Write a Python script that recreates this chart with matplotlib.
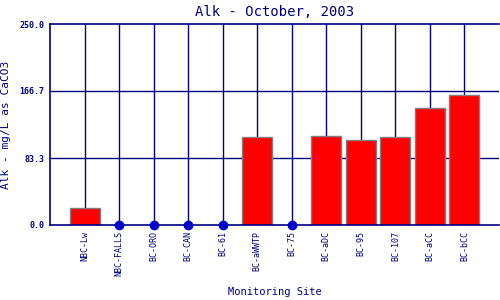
import matplotlib
matplotlib.use("Agg")
import matplotlib.pyplot as plt
import numpy as np

sites = ["NBC-Lw", "NBC-FALLS", "BC-ORO", "BC-CAN", "BC-61", "BC-aWWTP",
         "BC-75", "BC-aDC", "BC-95", "BC-107", "BC-aCC", "BC-bCC"]
alk = [21.5, 0, 0, 0, 0, 109, 0, 110.3, 105.3, 109, 145.1, 161.3]
yticks = [0.0, 83.3, 166.7, 250.0]

NAVY = "#000080"
plt.rcParams["font.family"] = "DejaVu Sans Mono"

fig = plt.figure(figsize=(5, 3), dpi=100)
ax = fig.add_axes([0.1, 0.25, 0.898, 0.67])

x = np.arange(len(sites))
vals = np.array(alk)

ax.set_axisbelow(True)
for yt in yticks[1:-1]:
    ax.axhline(yt, color=NAVY, lw=1, zorder=0)
for xi in x:
    ax.axvline(xi, color=NAVY, lw=1, zorder=0)

nz = vals > 0
ax.bar(x[nz], vals[nz], width=0.87, color="#ff0000", edgecolor="#808080",
       linewidth=1, zorder=2)
ax.plot(x[~nz], vals[~nz], "o", color="#0000cc", ms=6, zorder=3, clip_on=False)

ax.set_xlim(-1, len(sites))
ax.set_ylim(0, 250)
ax.set_yticks(yticks)
ax.set_yticklabels([f"{v:.1f}" for v in yticks], fontsize=6, color=NAVY,
                   fontweight="bold")
ax.set_xticks(x)
ax.set_xticklabels(sites, rotation=90, fontsize=6, color=NAVY)
ax.tick_params(length=0, pad=4)

for s in ["left", "bottom", "top"]:
    ax.spines[s].set_color(NAVY)
    ax.spines[s].set_linewidth(1.2)
ax.spines["right"].set_visible(False)

ax.set_title("Alk - October, 2003", color=NAVY, fontsize=10, pad=6)
ax.set_ylabel("Alk - mg/L as CaCO3", color=NAVY, fontsize=8, labelpad=6)
ax.set_xlabel("Monitoring Site", color=NAVY, fontsize=7.5, labelpad=8)

fig.savefig("out.png", dpi=100)
